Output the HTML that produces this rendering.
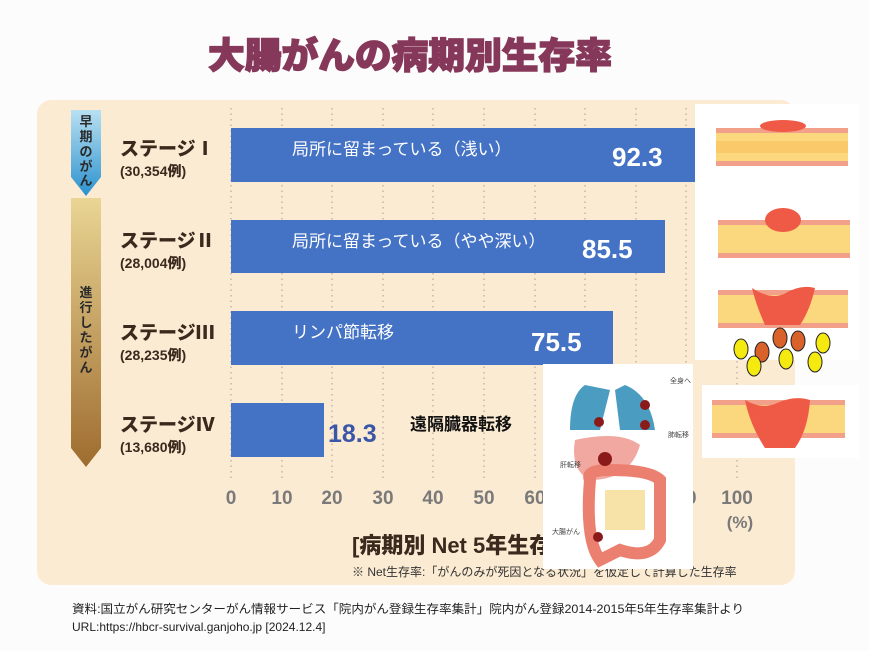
<!DOCTYPE html>
<html><head><meta charset="utf-8"><style>
body{margin:0;background:#fff}
svg{display:block;font-family:"Liberation Sans","Noto Sans CJK JP",sans-serif}
</style></head><body>
<svg width="869" height="651" viewBox="0 0 869 651">
<rect width="869" height="651" fill="#fdfcfc"/>
<text x="410" y="68" font-size="36" font-weight="900" fill="#86385a" text-anchor="middle" stroke="#86385a" stroke-width="1.4" textLength="404" lengthAdjust="spacingAndGlyphs">大腸がんの病期別生存率</text>
<rect x="37" y="100" width="758" height="485" rx="14" fill="#fcebd3"/>
<defs>
<linearGradient id="bl" x1="0" y1="0" x2="0" y2="1"><stop offset="0" stop-color="#b9e0f2"/><stop offset="1" stop-color="#2b92cf"/></linearGradient>
<linearGradient id="br" x1="0" y1="0" x2="0" y2="1"><stop offset="0" stop-color="#e9d594"/><stop offset="1" stop-color="#9e6c2f"/></linearGradient>
</defs>
<path d="M71,110 H101 V177 L86,196 L71,177 Z" fill="url(#bl)"/>
<path d="M71,198 H101 V448 L86,467 L71,448 Z" fill="url(#br)"/>
<g font-size="13" font-weight="700" fill="#2a2a2a" text-anchor="middle">
<text x="86" y="126">早</text><text x="86" y="141">期</text><text x="86" y="156">の</text><text x="86" y="171">が</text><text x="86" y="185">ん</text>
<text x="86" y="297">進</text><text x="86" y="312">行</text><text x="86" y="327">し</text><text x="86" y="342">た</text><text x="86" y="357">が</text><text x="86" y="372">ん</text>
</g>
<g font-weight="900" fill="#3a2a1e">
<text x="120" y="155" font-size="19">ステージⅠ</text><text x="120" y="176" font-size="14">(30,354例)</text>
<text x="120" y="247" font-size="19">ステージⅡ</text><text x="120" y="268" font-size="14">(28,004例)</text>
<text x="120" y="339" font-size="19">ステージⅢ</text><text x="120" y="360" font-size="14">(28,235例)</text>
<text x="120" y="431" font-size="19">ステージⅣ</text><text x="120" y="452" font-size="14">(13,680例)</text>
</g>
<g stroke="#b5aaa0" stroke-width="1.2" stroke-dasharray="1.5,4">
<line x1="231" y1="108" x2="231" y2="480"/><line x1="282" y1="108" x2="282" y2="480"/><line x1="332" y1="108" x2="332" y2="480"/><line x1="383" y1="108" x2="383" y2="480"/><line x1="433" y1="108" x2="433" y2="480"/><line x1="484" y1="108" x2="484" y2="480"/><line x1="535" y1="108" x2="535" y2="480"/><line x1="585" y1="108" x2="585" y2="480"/><line x1="636" y1="108" x2="636" y2="480"/><line x1="686" y1="108" x2="686" y2="480"/><line x1="737" y1="108" x2="737" y2="480"/>
</g>
<g fill="#4472c4">
<rect x="231" y="128" width="467" height="54"/><rect x="231" y="220" width="434" height="53"/><rect x="231" y="311" width="382" height="54"/><rect x="231" y="403" width="93" height="54"/>
</g>
<g fill="#fff" font-size="17">
<text x="292" y="155">局所に留まっている（浅い）</text>
<text x="292" y="247">局所に留まっている（やや深い）</text>
<text x="292" y="338">リンパ節転移</text>
</g>
<g fill="#fff" font-size="26" font-weight="700">
<text x="612" y="166">92.3</text><text x="582" y="258">85.5</text><text x="531" y="351">75.5</text>
</g>
<text x="328" y="442" font-size="25" font-weight="700" fill="#3a56a8">18.3</text>
<text x="410" y="430" font-size="17" font-weight="700" fill="#111">遠隔臓器転移</text>
<g font-size="19" font-weight="700" fill="#7a7a7a" text-anchor="middle">
<text x="231" y="504">0</text><text x="282" y="504">10</text><text x="332" y="504">20</text><text x="383" y="504">30</text><text x="433" y="504">40</text><text x="484" y="504">50</text><text x="535" y="504">60</text><text x="686" y="504">90</text><text x="737" y="504">100</text>
<text x="740" y="528" font-size="17">(%)</text>
</g>
<text x="352" y="553" font-size="22" font-weight="900" fill="#3a2a1e">[病期別 Net 5年生存率]</text>
<text x="352" y="576" font-size="12" fill="#333">※ Net生存率:「がんのみが死因となる状況」を仮定して計算した生存率</text>
<text x="72" y="613" font-size="12" fill="#222" textLength="672" lengthAdjust="spacingAndGlyphs">資料:国立がん研究センターがん情報サービス「院内がん登録生存率集計」院内がん登録2014-2015年5年生存率集計より</text>
<text x="72" y="631" font-size="12" fill="#222">URL:https://hbcr-survival.ganjoho.jp [2024.12.4]</text>
<rect x="695" y="104" width="164" height="256" fill="#fff"/>
<g>
<rect x="716" y="128" width="132" height="38" fill="#f2a08a"/><rect x="716" y="133" width="132" height="28" fill="#fbd77e"/><rect x="716" y="141" width="132" height="12" fill="#f9c96a"/>
<ellipse cx="783" cy="126" rx="23" ry="6" fill="#ee5a45"/>
<rect x="718" y="220" width="132" height="38" fill="#f2a08a"/><rect x="718" y="225" width="132" height="28" fill="#fbd77e"/>
<ellipse cx="783" cy="220" rx="18" ry="12" fill="#ee5a45"/>
<rect x="718" y="290" width="130" height="38" fill="#f2a08a"/><rect x="718" y="295" width="130" height="28" fill="#fbd77e"/>
<path d="M752,288 Q770,300 784,294 Q800,284 815,288 Q810,310 800,325 L765,325 Q756,305 752,288Z" fill="#ee5a45"/>
</g>
<g stroke="#222" stroke-width="1">
<ellipse cx="741" cy="349" rx="7" ry="10" fill="#f5ea10"/><ellipse cx="762" cy="352" rx="7" ry="10" fill="#d9622a"/><ellipse cx="780" cy="338" rx="7" ry="10" fill="#d9622a"/><ellipse cx="798" cy="341" rx="7" ry="10" fill="#d9622a"/><ellipse cx="823" cy="343" rx="7" ry="10" fill="#f5ea10"/><ellipse cx="754" cy="366" rx="7" ry="10" fill="#f5ea10"/><ellipse cx="786" cy="359" rx="7" ry="10" fill="#f5ea10"/><ellipse cx="815" cy="362" rx="7" ry="10" fill="#f5ea10"/>
</g>
<rect x="702" y="385" width="157" height="73" fill="#fff"/>
<rect x="712" y="400" width="133" height="38" fill="#f2a08a"/><rect x="712" y="405" width="133" height="28" fill="#fbd77e"/>
<path d="M745,400 Q762,410 777,403 Q795,395 810,400 Q808,430 795,448 L765,448 Q750,425 745,400Z" fill="#ee5a45"/>
<rect x="543" y="364" width="150" height="205" fill="#fff"/>
<path d="M585,385 Q570,395 570,430 L600,430 L610,390Z" fill="#4a9cc0"/>
<path d="M625,385 Q650,395 655,430 L620,430 L615,390Z" fill="#4a9cc0"/>
<path d="M575,440 Q620,430 640,445 Q630,480 590,480 Q570,470 575,440Z" fill="#f0a8a0"/>
<path d="M590,480 Q585,470 610,470 Q650,470 660,480 L660,540 Q650,560 620,550 L600,560 Q585,540 590,480Z" fill="none" stroke="#ec8070" stroke-width="12"/>
<rect x="605" y="490" width="40" height="40" fill="#f7e3a8"/>
<g fill="#8b1a1a"><circle cx="599" cy="422" r="5"/><circle cx="645" cy="405" r="5"/><circle cx="645" cy="425" r="5"/><circle cx="605" cy="459" r="7"/><circle cx="598" cy="537" r="5"/></g>
<g font-size="7" fill="#444"><text x="670" y="383">全身へ</text><text x="668" y="437">肺転移</text><text x="560" y="467">肝転移</text><text x="552" y="534">大腸がん</text></g>
</svg>
</body></html>
